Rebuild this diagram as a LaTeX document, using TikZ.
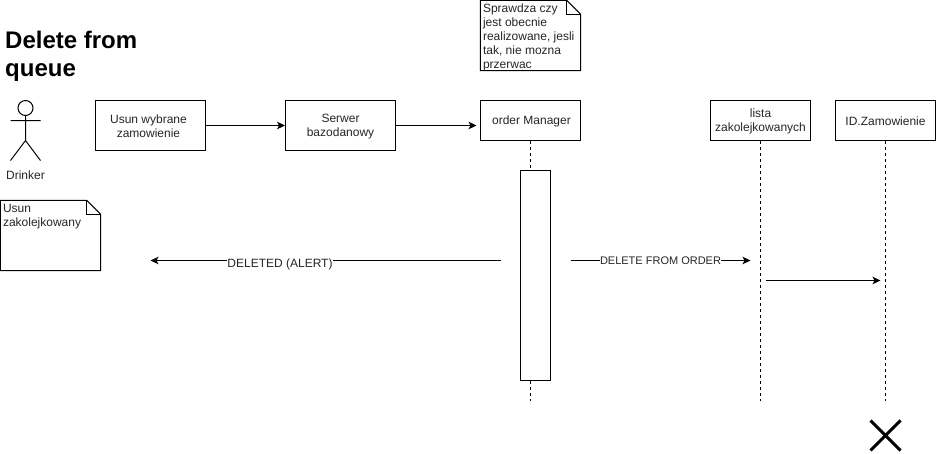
\documentclass[tikz,border=0pt]{standalone}
\usepackage{fontspec}
\setmainfont{Liberation Sans}
\usetikzlibrary{arrows.meta,calc}
\tikzset{
  lbl/.style={inner sep=0pt,outer sep=0pt,font=\fontsize{12}{14}\selectfont,align=center,text=black!85},
  box/.style={draw=black,line width=1pt,fill=white,inner sep=0pt,align=center},
  boxtxt/.style={lbl},
  notetxt/.style={inner sep=0pt,outer sep=0pt,font=\fontsize{12}{14}\selectfont,align=left,anchor=north west,text=black!85},
  msg/.style={line width=1pt,-{Stealth[length=8pt,width=7.5pt,inset=2pt]}},
  life/.style={line width=0.8pt,dash pattern=on 3pt off 3pt},
  noteline/.style={draw=black,line width=1pt,fill=white,line join=round},
  edgelbl/.style={lbl,fill=white,inner ysep=0.5pt}
}
\begin{document}
\begin{tikzpicture}[x=1pt,y=-1pt]
\useasboundingbox (0,0) rectangle (936,453);
% title
\node[inner sep=0pt,anchor=north west,align=left,font=\fontsize{24}{28}\bfseries\selectfont] (title) at (5,31) {Delete from\\queue};
% actor
\node[draw=black,line width=1pt,circle,minimum size=15pt,inner sep=0pt] (head) at (25.5,108) {};
\coordinate (hip) at (25.5,140.5);
\coordinate (armL) at (10.5,120.5);
\coordinate (armR) at (40.5,120.5);
\coordinate (legL) at (10.5,160.5);
\coordinate (legR) at (40.5,160.5);
\draw[line width=1pt] (head.south) -- (hip) (armL) -- (armR) (legL) -- (hip) -- (legR);
\node[lbl] (drinker) at (25.5,175.5) {Drinker};
% lifelines ends
\coordinate (endA) at (530.5,400.5);
\coordinate (endB) at (760.5,400.5);
\coordinate (endC) at (885.5,400.5);
% boxes
\node[box,minimum width=110pt,minimum height=50pt] (usun) at (150.5,125.5) {};
\node[boxtxt] (usunT) at (148.5,126.5) {Usun wybrane\\zamowienie};
\node[box,minimum width=110pt,minimum height=50pt] (serwer) at (340.5,125.5) {};
\node[boxtxt] (serwerT) at (340.5,126.5) {Serwer\\bazodanowy};
\node[box,minimum width=100pt,minimum height=40pt] (order) at (530.5,120.5) {};
\node[boxtxt] (orderT) at (531.5,121.5) {order Manager};
\node[box,minimum width=100pt,minimum height=40pt] (lista) at (760.5,120.5) {};
\node[boxtxt] (listaT) at (760.5,121.5) {lista\\zakolejkowanych};
\node[box,minimum width=100pt,minimum height=40pt] (idz) at (885.5,120.5) {};
\node[boxtxt] (idzT) at (885.5,121.5) {ID.Zamowienie};
\draw[life] (order.south) -- (endA);
\draw[life] (lista.south) -- (endB);
\draw[life] (idz.south) -- (endC);
\node[box,minimum width=30pt,minimum height=210pt] (act) at (535.5,275.5) {};
% arrows
\coordinate (orderIn) at (476.5,125.5);
\draw[msg] (usun.east) -- (serwer.west);
\draw[msg] (serwer.east) -- (orderIn);
\coordinate (delS) at (500.5,260.5);
\coordinate (delE) at (150.5,260.5);
\draw[msg] (delS) -- node[edgelbl,pos=0.63,yshift=-3.5pt] (deleted) {DELETED (ALERT)} (delE);
\coordinate (dfS) at (570.5,260.5);
\coordinate (dfE) at (750.5,260.5);
\draw[msg] (dfS) -- node[edgelbl,font=\fontsize{11}{13}\selectfont] (dfo) {DELETE FROM ORDER} (dfE);
\coordinate (idS) at (765.5,280.5);
\coordinate (idE) at (880.5,280.5);
\draw[msg] (idS) -- (idE);
% notes
\node[minimum width=100pt,minimum height=70pt,inner sep=0pt] (noteA) at (530.5,35.5) {};
\draw[noteline] (noteA.north west) -- ($(noteA.north east)+(-14,0)$) -- ($(noteA.north east)+(0,14)$) -- (noteA.south east) -- (noteA.south west) -- cycle;
\draw[line width=1pt] ($(noteA.north east)+(-14,0)$) -- ($(noteA.north east)+(-14,14)$) -- ($(noteA.north east)+(0,14)$);
\node[notetxt] (noteAt) at (483,4) {Sprawdza czy\\jest obecnie\\realizowane, jesli\\tak, nie mozna\\przerwac};
\node[minimum width=100pt,minimum height=70pt,inner sep=0pt] (noteB) at (50.5,235.5) {};
\draw[noteline] (noteB.north west) -- ($(noteB.north east)+(-14,0)$) -- ($(noteB.north east)+(0,14)$) -- (noteB.south east) -- (noteB.south west) -- cycle;
\draw[line width=1pt] ($(noteB.north east)+(-14,0)$) -- ($(noteB.north east)+(-14,14)$) -- ($(noteB.north east)+(0,14)$);
\node[notetxt] (noteBt) at (3,204) {Usun\\zakolejkowany};
% destroy mark
\coordinate (x1) at (870.5,420.5);
\coordinate (x2) at (900.5,450.5);
\coordinate (x3) at (900.5,420.5);
\coordinate (x4) at (870.5,450.5);
\draw[line width=3pt] (x1) -- (x2) (x3) -- (x4);
\end{tikzpicture}
\end{document}
